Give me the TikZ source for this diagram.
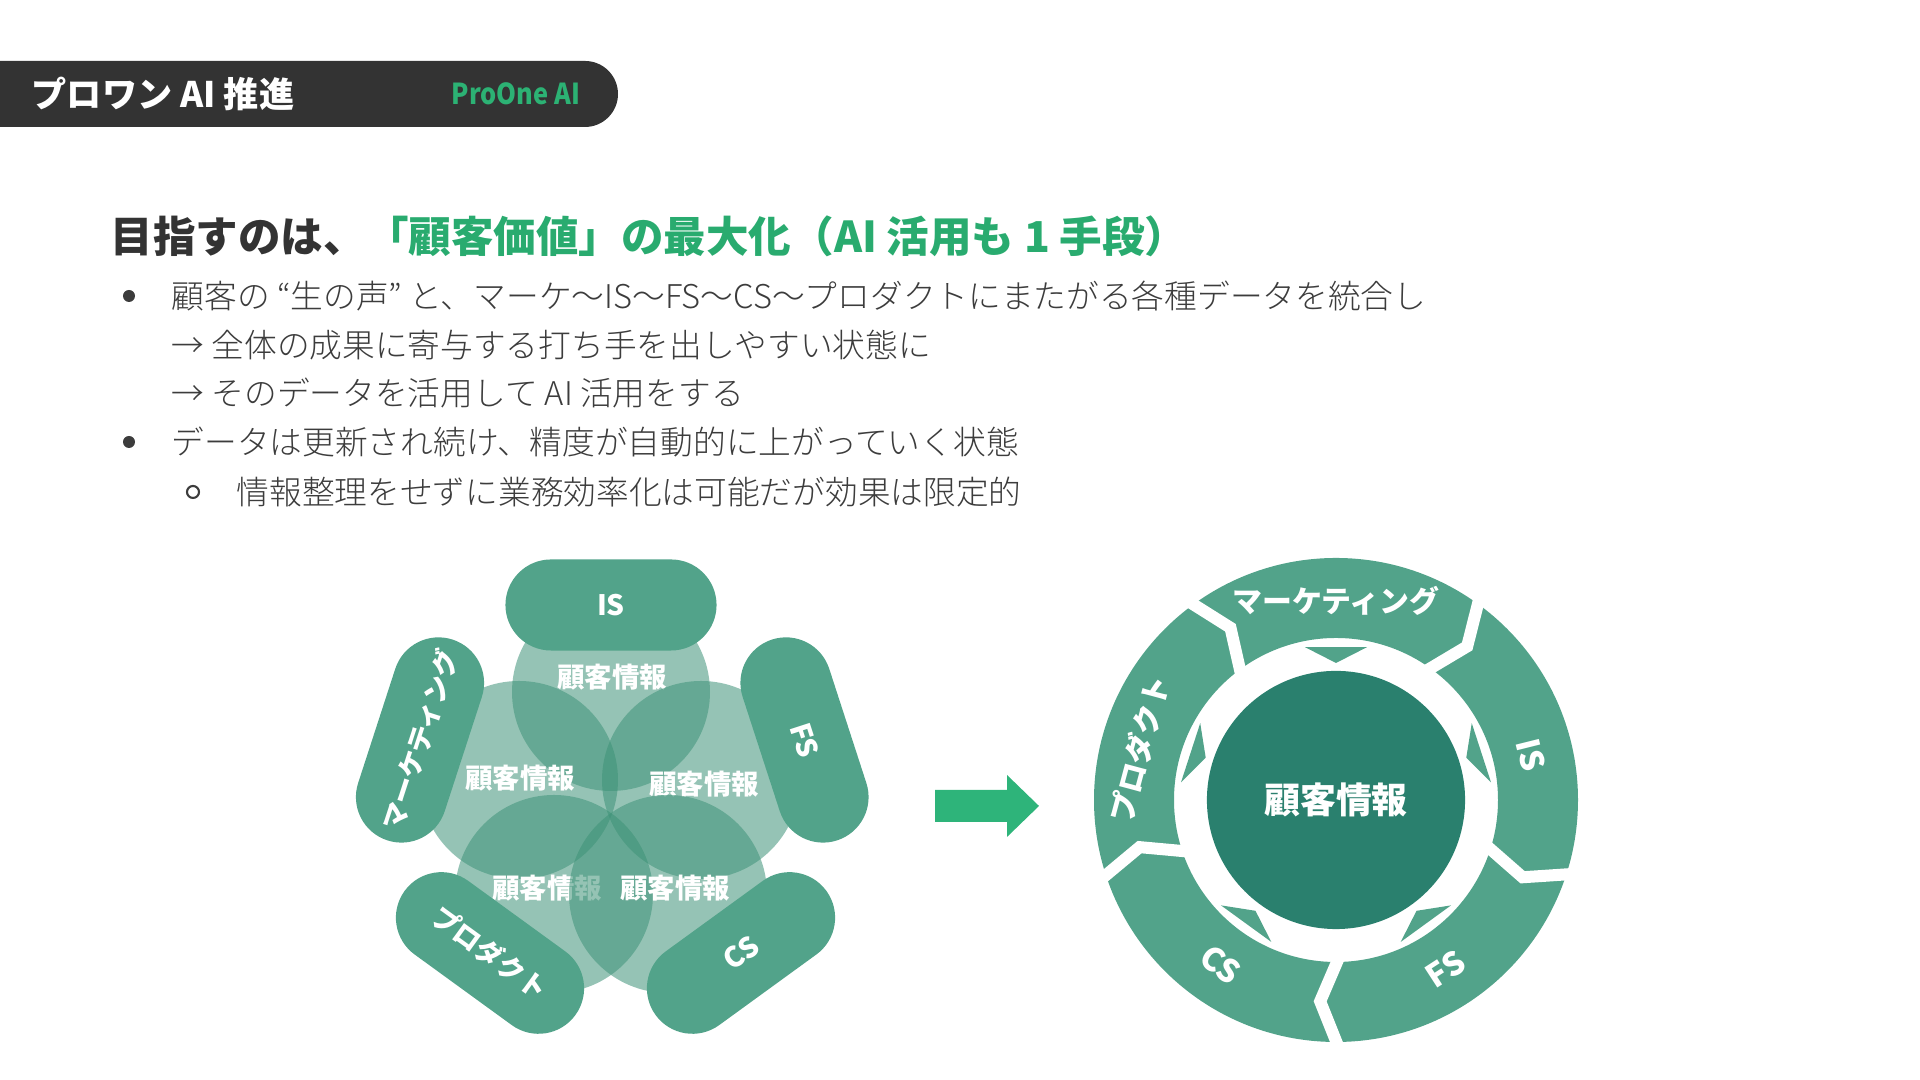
\documentclass[tikz,border=0pt]{standalone}
\usepackage{fontspec}
\setmainfont{Noto Sans CJK JP}
\IfFontExistsTF{Noto Sans CJK JP Light}
  {\newfontfamily\bodyfont{Noto Sans CJK JP Light}}
  {\newfontfamily\bodyfont{Noto Sans CJK JP}}

\definecolor{barblack}{RGB}{51,51,51}
\definecolor{brandgreen}{RGB}{44,178,116}
\definecolor{titlegreen}{RGB}{41,171,111}
\definecolor{ringgreen}{RGB}{82,163,138}
\definecolor{venngreen}{RGB}{62,146,120}
\definecolor{coreteal}{RGB}{42,128,110}
\definecolor{arrowgreen}{RGB}{46,180,122}
\definecolor{bodygray}{RGB}{60,60,60}

\tikzset{
  pill/.style={rectangle, rounded corners=0.455cm, fill=ringgreen, minimum width=2.11cm,
    minimum height=0.91cm, inner sep=0pt, text=white, font=\bfseries\fontsize{8pt}{8pt}\selectfont},
  bubble/.style={fill=venngreen, fill opacity=0.55},
  bubbletext/.style={text=white, inner sep=0pt, font=\bfseries\fontsize{7.8pt}{7.8pt}\selectfont},
  ringlabel/.style={text=white, inner sep=0pt, font=\bfseries\fontsize{9.1pt}{9.1pt}\selectfont},
  bodyline/.style={anchor=west, text=bodygray, inner sep=0pt, font=\bodyfont\fontsize{9.3pt}{9.3pt}\selectfont},
}

\begin{document}
\begin{tikzpicture}[x=0.01cm, y=0.01cm]
\useasboundingbox (0,0) rectangle (1920,1080);
% Header bar
\fill[barblack, rounded corners=0.33cm] (-40,953) rectangle (618,1019);
\node[anchor=west, text=white, inner sep=0pt, font=\bfseries\fontsize{10pt}{10pt}\selectfont] (bartitle) at (31,986) {プロワン AI 推進};
\node[anchor=west, text=brandgreen, inner sep=0pt, font=\bfseries\fontsize{8.2pt}{8.2pt}\selectfont] (brand) at (451,986) {\scalebox{0.88}[1]{ProOne AI}};
% Headline and bullets
\node[anchor=west, text=barblack, inner sep=0pt, font=\bfseries\fontsize{12.1pt}{12.1pt}\selectfont] (headline) at (110,844)
  {目指すのは、\textcolor{titlegreen}{「顧客価値」の最大化（AI 活用も 1 手段）}};
\fill[bodygray] (129,784) circle (6);
\node[bodyline] (line1) at (171,784) {顧客の “生の声” と、マーケ〜IS〜FS〜CS〜プロダクトにまたがる各種データを統合し};
\node[bodyline] (line2) at (171,735) {→ 全体の成果に寄与する打ち手を出しやすい状態に};
\node[bodyline] (line3) at (171,687) {→ そのデータを活用して AI 活用をする};
\fill[bodygray] (129,638) circle (6);
\node[bodyline] (line4) at (171,638) {データは更新され続け、精度が自動的に上がっていく状態};
\draw[bodygray, line width=0.6pt] (193,588) circle (6);
\node[bodyline] (line5) at (236,588) {情報整理をせずに業務効率化は可能だが効果は限定的};

% Left - separate teams around shared info
\begin{scope}[shift={(611,277)}]
\fill[bubble] (0,111) circle (99);
\node[bubbletext] (infotop) at (1,126) {顧客情報};
\fill[bubble] (-92,23) circle (99);
\node[bubbletext] (infoleft) at (-91,25) {顧客情報};
\fill[bubble] (90,23) circle (99);
\node[bubbletext] (inforight) at (93,19) {顧客情報};
\fill[bubble] (-57,-91) circle (99);
\node[bubbletext] (infolowleft) at (-64,-85) {顧客情報};
\fill[bubble] (57,-91) circle (99);
\node[bubbletext] (infolowright) at (64,-85) {顧客情報};
\node[pill] (is) at (0,198) {IS};
\node[pill, rotate=-72] (fs) at (193.5,63) {FS};
\node[pill, rotate=36] (cs) at (130,-150) {CS};
\node[pill, rotate=-36, font=\bfseries\fontsize{7.7pt}{7.7pt}\selectfont] (product) at (-121,-150) {プロダクト};
\node[pill, rotate=72, font=\bfseries\fontsize{7.7pt}{7.7pt}\selectfont] (marketing) at (-191,63) {マーケティング};
\end{scope}

% Block arrow
\coordinate (arrowtail) at (935,274);
\coordinate (arrowtip) at (1039,274);
\fill[arrowgreen] (arrowtail) ++(0,16) -- ++(72,0) -- ++(0,15) -- (arrowtip) -- ++(-32,-31) -- ++(0,15) -- ++(-72,0) -- cycle;

% Right - one cycle around shared info
\begin{scope}[shift={(1336,280)}]
\fill[ringgreen, even odd rule] (0,0) circle (242) (0,0) circle (162);
\foreach \a in {90,18,-54,-126,162}
  \fill[ringgreen] ({\a+11.5}:156) -- ({\a-11.5}:156) -- (\a:137) -- cycle;
\foreach \a in {127,55,-17,-89,-161}
  \draw[white, line width=0.12cm, line join=miter] (\a:252) -- ({\a-5.5}:202) -- (\a:158);
\node[circle, fill=coreteal, minimum size=2.58cm, inner sep=0pt, text=white,
  font=\bfseries\fontsize{10.2pt}{10.2pt}\selectfont] (core) at (0,0) {顧客情報};
\node[ringlabel, font=\bfseries\fontsize{8.5pt}{8.5pt}\selectfont] (ringmarketing) at (90:199) {マーケティング};
\node[ringlabel, rotate=-76] (ringis) at (13:200) {IS};
\node[ringlabel, rotate=33] (ringfs) at (-57:201) {FS};
\node[ringlabel, rotate=-35] (ringcs) at (-125:201) {CS};
\node[ringlabel, rotate=75, font=\bfseries\fontsize{8.5pt}{8.5pt}\selectfont] (ringproduct) at (165.5:203) {プロダクト};
\end{scope}
\end{tikzpicture}
\end{document}
